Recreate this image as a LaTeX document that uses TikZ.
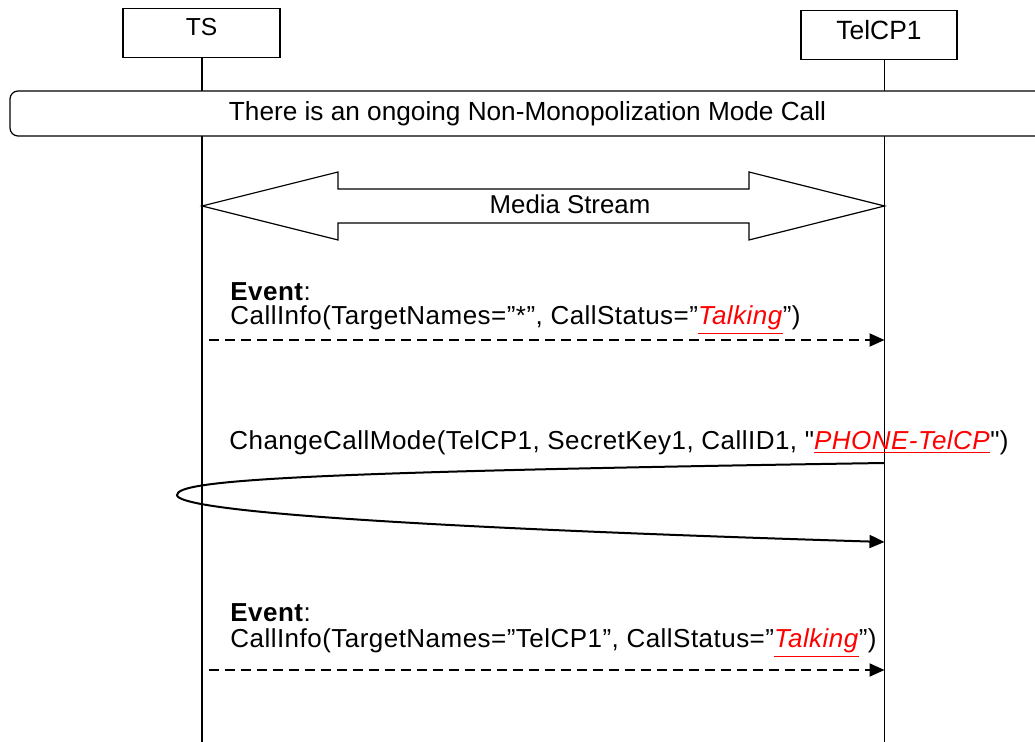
\documentclass[tikz,border=0pt]{standalone}
\usepackage{fontspec}
\setmainfont{Liberation Sans}
\newfontfamily\msgfont[LetterSpace=1.8]{Liberation Sans}
\usetikzlibrary{arrows.meta}
\newcommand{\hlt}[1]{\textcolor{red}{\underline{\textit{#1}}}}
\begin{document}
\begin{tikzpicture}[x=0.5pt,y=-0.5pt,
  actor/.style={draw,line width=0.6pt,minimum width=78.5pt,inner sep=0pt,fill=white,anchor=north,
    font=\fontsize{12.3}{14}\selectfont},
  life/.style={line width=0.6pt},
  msg/.style={line width=1pt,dash pattern=on 5pt off 3pt,-{Triangle[length=7.5pt,width=6.5pt]}},
  callmsg/.style={line width=1pt,-{Triangle[length=7.5pt,width=6.5pt]}},
  lbl/.style={anchor=west,inner sep=0pt,font=\msgfont\fontsize{13}{15}\selectfont},
  cond/.style={draw,line width=0.6pt,rounded corners=4pt,fill=white,inner sep=0pt,
    minimum width=517.5pt,minimum height=22.5pt,font=\fontsize{13.1}{15}\selectfont},
  media/.style={draw,line width=0.6pt,fill=white}
]
\useasboundingbox (0,0) rectangle (1035,742);
% actors
\node[actor,text height=13.5pt,text depth=11pt] (ts) at (201.5,8) {TS};
\node[actor,minimum width=78pt,text height=14.5pt,text depth=10pt,font=\fontsize{13.2}{15}\selectfont] (tel) at (879,10) {TelCP1};
\coordinate (tsend) at (202,742);
\coordinate (telend) at (884.5,742);
\draw[life] (202,57) -- (tsend);
\draw[life] (884.5,59) -- (telend);
% condition
\node[cond] (ongoing) at (527.5,113.5) {There is an ongoing Non-Monopolization Mode Call};
% media stream
\draw[media] (202,206) -- (338,172) -- (338,189) -- (749,189) -- (749,172) -- (884.5,206)
  -- (749,240) -- (749,223) -- (338,223) -- (338,240) -- cycle;
\node[anchor=center,inner sep=0pt,font=\fontsize{12.9}{15}\selectfont] (mediatxt) at (570,204) {Media Stream};
% event 1
\node[lbl] (ev1a) at (230,292) {\textbf{Event}:};
\node[lbl] (ev1b) at (230,320) {CallInfo(TargetNames=”*”, CallStatus=”\hlt{Talking}”)};
\coordinate (m1s) at (209,340);
\coordinate (m1e) at (884.5,340);
\draw[msg] (m1s) -- (m1e);
% change call mode
\node[lbl] (ccm) at (229,443) {ChangeCallMode(TelCP1, SecretKey1, CallID1, "\hlt{PHONE-TelCP}")};
\coordinate (c1s) at (884.5,463);
\coordinate (c1m) at (177,495);
\coordinate (c1e) at (884.5,542);
\draw[callmsg] (c1s) .. controls (300,472) and (177,480) .. (c1m)
  .. controls (177,508) and (330,525) .. (c1e);
% event 2
\node[lbl] (ev2a) at (230,613) {\textbf{Event}:};
\node[lbl] (ev2b) at (230,643) {CallInfo(TargetNames=”TelCP1”, CallStatus=”\hlt{Talking}”)};
\coordinate (m2s) at (209,670);
\coordinate (m2e) at (884.5,670);
\draw[msg] (m2s) -- (m2e);
\end{tikzpicture}
\end{document}
